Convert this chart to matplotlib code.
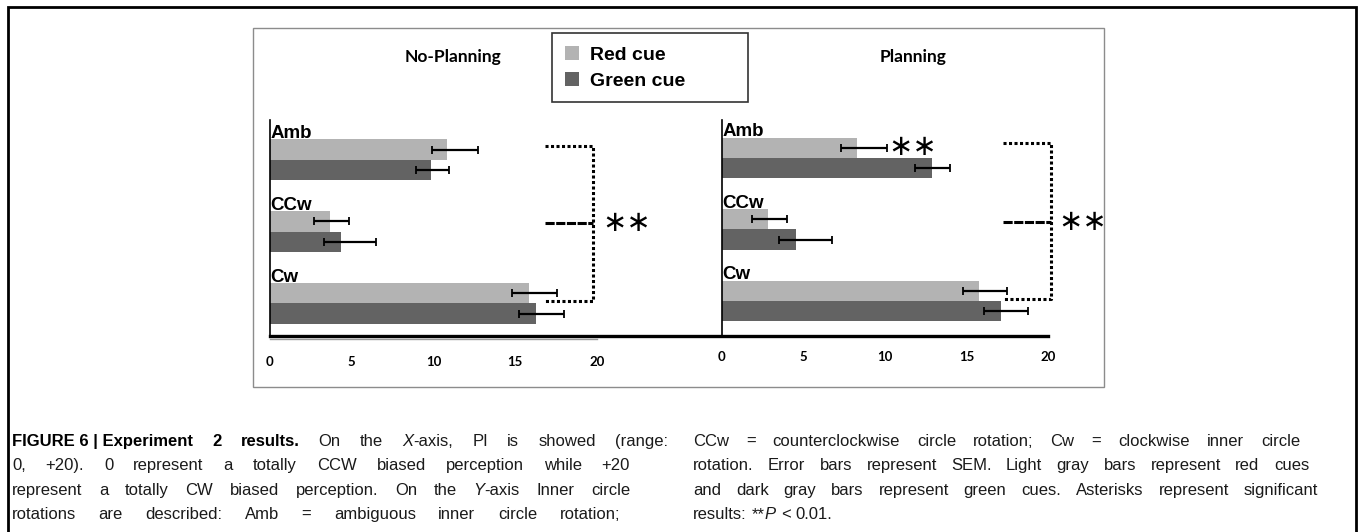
import matplotlib.pyplot as plt
import numpy as np
from matplotlib.patches import Rectangle
from matplotlib.lines import Line2D

W, H = 1359, 532

categories = ['Amb', 'CCw', 'Cw']
series = ['Red cue', 'Green cue']
ticks = [0, 5, 10, 15, 20]

# No-Planning panel
np_red = [10.8, 3.67, 15.84]
np_green = [9.85, 4.34, 16.27]
np_red_lo = [9.9, 2.7, 14.8]
np_red_hi = [12.7, 4.85, 17.55]
np_green_lo = [8.9, 3.3, 15.2]
np_green_hi = [10.95, 6.5, 18.0]

# Planning panel
pl_red = [8.28, 2.82, 15.77]
pl_green = [12.9, 4.54, 17.1]
pl_red_lo = [7.3, 1.85, 14.8]
pl_red_hi = [10.1, 4.0, 17.5]
pl_green_lo = [11.85, 3.5, 16.07]
pl_green_hi = [14.0, 6.75, 18.8]

red_col = '#b3b3b3'
green_col = '#636363'

fig = plt.figure(figsize=(W / 100, H / 100), dpi=100)


def fx(x):
    return x / W


def fy(y):
    return 1 - y / H


def panel(left, right, top, bottom, ylim, red, green, rlo, rhi, glo, ghi, title, title_x, tick_pad, gray_axis):
    ax = fig.add_axes([fx(left), fy(bottom), fx(right - left), (bottom - top) / H])
    for s in ['top', 'right', 'bottom']:
        ax.spines[s].set_visible(False)
    if gray_axis:
        # thin gray x-axis line just under the thick baseline
        ax.spines['bottom'].set_visible(True)
        ax.spines['bottom'].set_color('#999999')
        ax.spines['bottom'].set_linewidth(1)
        ax.spines['bottom'].set_position(('outward', 2.5))
    ax.set_xlim(0, 20)
    ax.set_ylim(*ylim)
    pos = np.arange(len(categories))
    h = 0.286
    b1 = ax.barh(pos - h / 2, red, height=h, color=red_col, label=series[0])
    b2 = ax.barh(pos + h / 2, green, height=h, color=green_col, label=series[1])
    red = np.array(red)
    green = np.array(green)
    ax.errorbar(red, pos - h / 2, xerr=[red - np.array(rlo), np.array(rhi) - red],
                fmt='none', ecolor='black', elinewidth=1.6, capsize=3, capthick=1.3)
    ax.errorbar(green, pos + h / 2, xerr=[green - np.array(glo), np.array(ghi) - green],
                fmt='none', ecolor='black', elinewidth=1.6, capsize=3, capthick=1.3)
    for p, c in zip(pos, categories):
        ax.text(0.02, p - h - 0.02, c, ha='left', va='baseline',
                fontsize=13.5, fontweight='bold', family='Liberation Sans')
    ax.spines['left'].set_linewidth(1.2)
    ax.set_yticks([])
    ax.set_xticks(ticks)
    ax.set_xticklabels([str(t) for t in ticks], fontsize=9.5, fontweight='bold', family='Lato')
    ax.tick_params(axis='x', length=0, pad=tick_pad)
    fig.text(fx(title_x), fy(57), title, ha='center', va='center',
             fontsize=12.5, fontweight='bold', family='Lato')
    return ax, b1, b2


ax1, b1, b2 = panel(270, 597, 120, 336, (2.453, -0.557), np_red, np_green,
                    np_red_lo, np_red_hi, np_green_lo, np_green_hi, 'No-Planning', 453, 12, True)
ax2, _, _ = panel(722, 1048, 120, 336, (2.49, -0.531), pl_red, pl_green,
                  pl_red_lo, pl_red_hi, pl_green_lo, pl_green_hi, 'Planning', 913, 11, False)

# significance brackets
dot = (0, (1, 0.8))
dash = (0, (3, 0.5))
star_kw = dict(ha='center', va='center', fontsize=21, family='DejaVu Sans', clip_on=False)


def bracket(ax, x0, x1, ytop, ymid, ybot, sx, sy):
    kw = dict(color='black', lw=2.2, clip_on=False)
    ax.plot([x0, x1, x1, x0], [ytop, ytop, ybot, ybot], linestyle=dot, **kw)
    ax.plot([x0, x1], [ymid, ymid], linestyle=dash, **kw)
    ax.text(sx, sy, '\u2217\u2217', **star_kw)


bracket(ax1, 16.8, 19.75, -0.195, 0.875, 1.965, 21.8, 0.875)
bracket(ax2, 17.25, 20.2, -0.21, 0.89, 1.97, 22.1, 0.89)
ax2.text(11.7, -0.15, '\u2217\u2217', **star_kw)

# thick baseline spanning both panels
fig.add_artist(Line2D([fx(270), fx(1048)], [fy(336), fy(336)], color='black', lw=2.4))

# legend
leg = fig.legend([b1, b2], series, loc='upper left', mode='expand',
                 bbox_to_anchor=(fx(552), fy(104), fx(748 - 552), (104 - 33) / H),
                 borderaxespad=0, fancybox=False, edgecolor='#333333', framealpha=1,
                 prop={'family': 'Liberation Sans', 'weight': 'bold', 'size': 14},
                 handlelength=0.75, handleheight=0.75, handletextpad=0.55,
                 labelspacing=0.42, borderpad=0.65)
leg.get_frame().set_linewidth(1.2)

# frames
fig.add_artist(Rectangle((fx(253), fy(387)), fx(1104 - 253), (387 - 28) / H,
                         fill=False, edgecolor='#8c8c8c', lw=1))
fig.add_artist(Rectangle((fx(8), fy(545)), fx(1356 - 8), (545 - 7) / H,
                         fill=False, edgecolor='black', lw=2))

# caption
N, B, I = 'normal', 'bold', 'italic'
left_lines = [
    [('FIGURE\u00a06\u00a0|\u00a0Experiment 2 results.', B), (' On the ', N), ('X', I), ('-axis, PI is showed (range:', N)],
    [('0, +20). 0 represent a totally CCW biased perception while +20', N)],
    [('represent a totally CW biased perception. On the ', N), ('Y', I), ('-axis Inner circle', N)],
    [('rotations are described: Amb = ambiguous inner circle rotation;', N)],
]
right_lines = [
    [('CCw = counterclockwise circle rotation; Cw = clockwise inner circle', N)],
    [('rotation. Error bars represent SEM. Light gray bars represent red cues', N)],
    [('and dark gray bars represent green cues. Asterisks represent significant', N)],
    [('results: **', N), ('P', I), (' < 0.01.', N)],
]
left_ends = [668, 630, 630, 620]
right_ends = [1300, 1309, 1318, None]
line_y = [446, 470, 495, 519]

fig.canvas.draw()
renderer = fig.canvas.get_renderer()


def split_words(runs):
    words = [[]]
    for txt, st in runs:
        parts = txt.split(' ')
        for i, p in enumerate(parts):
            if i > 0:
                words.append([])
            if p:
                words[-1].append((p, st))
    return [w for w in words if w]


def make(txt, st, x, y):
    kw = dict(fontsize=12, family='Liberation Sans', va='baseline', ha='left', color='#1a1a1a')
    if st == B:
        kw['fontweight'] = 'bold'
        kw['color'] = 'black'
    if st == I:
        kw['style'] = 'italic'
    t = fig.text(fx(x), fy(y), txt, **kw)
    return t, t.get_window_extent(renderer).width


def caption(lines, x0, ends):
    for runs, y, end in zip(lines, line_y, ends):
        words = split_words(runs)
        placed = []
        for w in words:
            pieces = []
            for txt, st in w:
                t, wd = make(txt, st, 0, y)
                pieces.append((t, wd))
            placed.append(pieces)
        widths = [sum(wd for _, wd in p) for p in placed]
        if end is None:
            gap = 5
        else:
            gap = (end - x0 - sum(widths)) / (len(words) - 1)
        x = x0
        for p, wd in zip(placed, widths):
            xx = x
            for t, pw in p:
                t.set_x(fx(xx))
                xx += pw
            x += wd + gap


caption(left_lines, 12, left_ends)
caption(right_lines, 693, right_ends)

fig.savefig('out.png', dpi=100)
